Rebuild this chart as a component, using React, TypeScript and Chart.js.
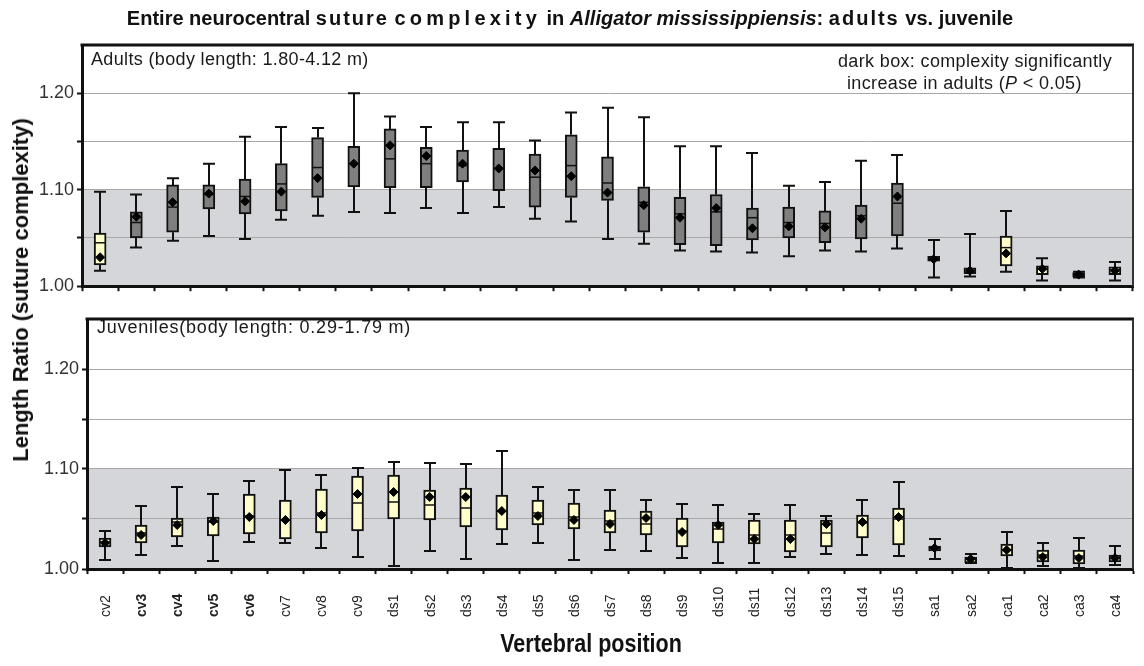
import { useEffect, useRef } from "react";
import { Chart, registerables } from "chart.js";

Chart.register(...registerables);

// Vertebral positions along the column
const vertebrae = [
  "cv2", "cv3", "cv4", "cv5", "cv6", "cv7", "cv8", "cv9",
  "ds1", "ds2", "ds3", "ds4", "ds5", "ds6", "ds7", "ds8", "ds9", "ds10",
  "ds11", "ds12", "ds13", "ds14", "ds15",
  "sa1", "sa2", "ca1", "ca2", "ca3", "ca4",
];
const boldVertebrae = ["cv3", "cv4", "cv5", "cv6"];

// Adults: five-number summary and mean of the length ratio
const adultMin = [1.016, 1.040, 1.047, 1.052, 1.049, 1.069, 1.073, 1.077, 1.076, 1.081, 1.076, 1.082, 1.070, 1.067, 1.049, 1.044, 1.037, 1.036, 1.035, 1.031, 1.037, 1.036, 1.039, 1.009, 1.010, 1.015, 1.006, 1.009, 1.006];
const adultQ1 = [1.022, 1.050, 1.056, 1.080, 1.075, 1.078, 1.092, 1.103, 1.102, 1.102, 1.108, 1.099, 1.082, 1.092, 1.089, 1.056, 1.043, 1.042, 1.048, 1.050, 1.045, 1.049, 1.052, 1.026, 1.013, 1.021, 1.012, 1.010, 1.012];
const adultMedian = [1.045, 1.066, 1.082, 1.095, 1.093, 1.106, 1.123, 1.127, 1.132, 1.127, 1.125, 1.122, 1.113, 1.125, 1.107, 1.087, 1.075, 1.077, 1.071, 1.066, 1.065, 1.073, 1.086, 1.028, 1.016, 1.040, 1.018, 1.012, 1.017];
const adultQ3 = [1.055, 1.077, 1.105, 1.105, 1.111, 1.127, 1.154, 1.145, 1.163, 1.144, 1.141, 1.143, 1.137, 1.157, 1.134, 1.103, 1.092, 1.095, 1.081, 1.082, 1.078, 1.084, 1.107, 1.031, 1.019, 1.052, 1.021, 1.014, 1.020];
const adultMax = [1.098, 1.095, 1.112, 1.127, 1.155, 1.165, 1.164, 1.200, 1.176, 1.165, 1.170, 1.170, 1.151, 1.180, 1.185, 1.175, 1.145, 1.145, 1.138, 1.104, 1.108, 1.130, 1.136, 1.048, 1.054, 1.078, 1.029, 1.015, 1.025];
const adultMean = [1.030, 1.072, 1.087, 1.096, 1.088, 1.098, 1.112, 1.127, 1.146, 1.135, 1.127, 1.122, 1.120, 1.114, 1.097, 1.084, 1.071, 1.081, 1.060, 1.062, 1.061, 1.070, 1.093, 1.028, 1.016, 1.034, 1.018, 1.012, 1.016];
// Positions where complexity increases significantly in adults (dark boxes)
const adultSignificant = [false, true, true, true, true, true, true, true, true, true, true, true, true, true, true, true, true, true, true, true, true, true, true, true, false, false, false, true, false];

// Juveniles: five-number summary and mean of the length ratio
const juvMin = [1.009, 1.014, 1.023, 1.008, 1.027, 1.026, 1.021, 1.012, 1.003, 1.018, 1.010, 1.025, 1.026, 1.009, 1.019, 1.018, 1.011, 1.006, 1.006, 1.012, 1.015, 1.014, 1.013, 1.010, 1.006, 1.001, 1.003, 1.001, 1.004];
const juvQ1 = [1.022, 1.026, 1.032, 1.033, 1.035, 1.030, 1.036, 1.038, 1.050, 1.049, 1.042, 1.039, 1.044, 1.040, 1.036, 1.034, 1.022, 1.026, 1.025, 1.017, 1.022, 1.031, 1.024, 1.018, 1.006, 1.013, 1.007, 1.005, 1.007];
const juvMedian = [1.027, 1.036, 1.047, 1.047, 1.053, 1.049, 1.056, 1.066, 1.067, 1.064, 1.061, 1.058, 1.056, 1.052, 1.048, 1.045, 1.038, 1.040, 1.034, 1.034, 1.036, 1.046, 1.050, 1.021, 1.010, 1.019, 1.014, 1.013, 1.011];
const juvQ3 = [1.031, 1.044, 1.051, 1.052, 1.075, 1.069, 1.080, 1.093, 1.094, 1.079, 1.081, 1.074, 1.069, 1.066, 1.059, 1.058, 1.051, 1.047, 1.049, 1.049, 1.049, 1.054, 1.061, 1.023, 1.012, 1.025, 1.019, 1.019, 1.014];
const juvMax = [1.038, 1.063, 1.082, 1.075, 1.088, 1.099, 1.094, 1.101, 1.107, 1.106, 1.105, 1.118, 1.082, 1.079, 1.079, 1.069, 1.065, 1.064, 1.055, 1.064, 1.053, 1.069, 1.087, 1.030, 1.015, 1.037, 1.026, 1.031, 1.023];
const juvMean = [1.026, 1.034, 1.044, 1.048, 1.052, 1.049, 1.054, 1.075, 1.077, 1.072, 1.072, 1.058, 1.053, 1.049, 1.045, 1.051, 1.037, 1.044, 1.030, 1.030, 1.045, 1.047, 1.052, 1.021, 1.010, 1.019, 1.012, 1.011, 1.011];
const juvSignificant = vertebrae.map(() => false);

// Axis range and the shaded reference band
const yMin = 1.0;
const yMax = 1.25;
const yStep = 0.05;
const bandRange = [1.0, 1.1];

const DARK_FILL = "#7f7f7f";
const LIGHT_FILL = "#ffffcc";
const BAND_FILL = "#d5d6da";
const GRID_COLOR = "#a8a8a8";
const INK = "#111111";
const SANS = '"Liberation Sans", Arial, Helvetica, sans-serif';

type Stats = {
  min: number[];
  q1: number[];
  median: number[];
  q3: number[];
  max: number[];
  mean: number[];
  dark: boolean[];
};

type PanelProps = {
  stats: Stats;
  top: number;
  height: number;
  plotLeft: number;
  plotTop: number;
  axisHeight: number;
  showLabels: boolean;
};

const isNear = (a: number, b: number) => Math.abs(a - b) < 1e-6;

function BoxPanel({ stats, top, height, plotLeft, plotTop, axisHeight, showLabels }: PanelProps) {
  const ref = useRef<HTMLCanvasElement>(null);

  useEffect(() => {
    const canvas = ref.current;
    if (!canvas) return;

    const band = {
      id: "band",
      beforeDraw(chart: any) {
        const { ctx, chartArea: a, scales } = chart;
        const yTop = scales.y.getPixelForValue(bandRange[1]);
        const yBot = scales.y.getPixelForValue(bandRange[0]);
        ctx.save();
        ctx.fillStyle = BAND_FILL;
        ctx.fillRect(a.left, yTop, a.right - a.left, yBot - yTop);
        ctx.restore();
      },
    };

    const whiskers = {
      id: "whiskers",
      afterDatasetDraw(chart: any, args: any) {
        if (args.index !== 0) return;
        const { ctx, scales } = chart;
        const { x, y } = scales;
        const cap = 6;
        ctx.save();
        ctx.strokeStyle = INK;
        stats.min.forEach((_, i) => {
          const cx = Math.round(x.getPixelForValue(i));
          const pMin = y.getPixelForValue(stats.min[i]);
          const pQ1 = y.getPixelForValue(stats.q1[i]);
          const pMed = y.getPixelForValue(stats.median[i]);
          const pQ3 = y.getPixelForValue(stats.q3[i]);
          const pMax = y.getPixelForValue(stats.max[i]);
          ctx.lineWidth = 2;
          ctx.beginPath();
          ctx.moveTo(cx, pQ3);
          ctx.lineTo(cx, pMax);
          ctx.moveTo(cx, pQ1);
          ctx.lineTo(cx, pMin);
          ctx.moveTo(cx - cap, pMax);
          ctx.lineTo(cx + cap, pMax);
          ctx.moveTo(cx - cap, pMin);
          ctx.lineTo(cx + cap, pMin);
          ctx.stroke();
          ctx.lineWidth = 1.5;
          ctx.beginPath();
          ctx.moveTo(cx - 5, pMed);
          ctx.lineTo(cx + 5, pMed);
          ctx.stroke();
        });
        ctx.restore();
      },
    };

    const frame = {
      id: "frame",
      afterDraw(chart: any) {
        const { ctx, chartArea: a } = chart;
        ctx.save();
        ctx.strokeStyle = INK;
        ctx.lineWidth = 3;
        ctx.beginPath();
        ctx.moveTo(a.left - 1.5, a.top);
        ctx.lineTo(a.right + 1, a.top);
        ctx.stroke();
        ctx.strokeStyle = "#333333";
        ctx.lineWidth = 2;
        ctx.beginPath();
        ctx.moveTo(a.right, a.top);
        ctx.lineTo(a.right, a.bottom);
        ctx.stroke();
        ctx.restore();
      },
    };

    // Vertical category labels, reading upwards from a common baseline
    const verticalLabels = {
      id: "verticalLabels",
      afterDraw(chart: any) {
        if (!showLabels) return;
        const { ctx, scales, chartArea: a } = chart;
        const base = a.bottom + 48;
        ctx.save();
        ctx.fillStyle = "#222222";
        ctx.textAlign = "left";
        ctx.textBaseline = "middle";
        vertebrae.forEach((lab, i) => {
          const px = scales.x.getPixelForValue(i);
          ctx.save();
          ctx.translate(px + 1, base);
          ctx.rotate(-Math.PI / 2);
          const bold = boldVertebrae.includes(lab);
          ctx.font = `${bold ? "bold " : ""}14px ${SANS}`;
          ctx.fillText(lab, 0, 0);
          ctx.restore();
        });
        ctx.restore();
      },
    };

    const chart = new Chart(canvas, {
      type: "bar",
      data: {
        labels: vertebrae,
        datasets: [
          {
            type: "bar",
            data: stats.q1.map((v, i) => [v, stats.q3[i]]) as any,
            backgroundColor: stats.dark.map((d) => (d ? DARK_FILL : LIGHT_FILL)),
            borderColor: INK,
            borderWidth: 2,
            borderSkipped: false,
            barThickness: 12,
            order: 1,
          },
          {
            type: "line",
            data: stats.mean,
            showLine: false,
            pointStyle: "rectRot",
            pointRadius: 4.5,
            pointBackgroundColor: "#000000",
            pointBorderColor: "#000000",
            pointBorderWidth: 1,
            order: 0,
          } as any,
        ],
      },
      options: {
        responsive: false,
        animation: false,
        devicePixelRatio: 1,
        layout: { padding: { left: 0, right: 11, top: plotTop, bottom: 0 } },
        plugins: {
          legend: { display: false },
          tooltip: { enabled: false },
        },
        scales: {
          x: {
            type: "category",
            offset: true,
            grid: {
              display: true,
              drawOnChartArea: false,
              offset: true,
              tickLength: 5,
              tickColor: INK,
              tickWidth: 2,
            },
            border: { color: INK, width: 3 },
            ticks: { display: false },
            afterFit: (s: any) => {
              s.height = axisHeight;
            },
          },
          y: {
            min: yMin,
            max: yMax,
            ticks: {
              stepSize: yStep,
              color: "#333333",
              padding: 3,
              font: { family: SANS, size: 18 },
              callback: (value: any) => {
                const v = Number(value);
                const h = Math.round(v * 100);
                return h % 10 === 0 && h < 125 ? v.toFixed(2) : "";
              },
            },
            grid: {
              color: (c: any) => {
                const v = c.tick ? c.tick.value : 0;
                return isNear(v, yMin) || isNear(v, yMax) ? "rgba(0,0,0,0)" : GRID_COLOR;
              },
              tickColor: (c: any) => {
                const v = c.tick ? c.tick.value : 0;
                return isNear(v, yMax) ? "rgba(0,0,0,0)" : INK;
              },
              tickLength: 5,
              tickWidth: 2,
              lineWidth: 1,
            },
            border: { color: INK, width: 3 },
            afterFit: (s: any) => {
              s.width = plotLeft;
            },
          },
        },
      } as any,
      plugins: [band, whiskers, frame, verticalLabels],
    });

    return () => chart.destroy();
  }, [stats, plotLeft, plotTop, axisHeight, showLabels]);

  return (
    <canvas
      ref={ref}
      width={1144}
      height={height}
      style={{ position: "absolute", left: 0, top, width: 1144, height }}
    />
  );
}

const adultStats: Stats = {
  min: adultMin,
  q1: adultQ1,
  median: adultMedian,
  q3: adultQ3,
  max: adultMax,
  mean: adultMean,
  dark: adultSignificant,
};

const juvStats: Stats = {
  min: juvMin,
  q1: juvQ1,
  median: juvMedian,
  q3: juvQ3,
  max: juvMax,
  mean: juvMean,
  dark: juvSignificant,
};

const note = (left: number, top: number, spacing = 0.35, size = 18): React.CSSProperties => ({
  position: "absolute",
  left,
  top,
  fontFamily: SANS,
  fontSize: size,
  lineHeight: `${size}px`,
  letterSpacing: spacing,
  color: "#1a1a1a",
  whiteSpace: "nowrap",
  transform: "translateY(-50%)",
});

export default function App() {
  return (
    <div
      style={{
        position: "absolute",
        left: 0,
        top: 0,
        width: 1144,
        height: 666,
        background: "#ffffff",
        overflow: "hidden",
      }}
    >
      <BoxPanel stats={adultStats} top={0} height={300} plotLeft={82} plotTop={45} axisHeight={10} showLabels={false} />
      <BoxPanel stats={juvStats} top={300} height={366} plotLeft={87} plotTop={19} axisHeight={97} showLabels={true} />

      <div
        style={{
          position: "absolute",
          left: 570,
          top: 18,
          transform: "translate(-50%, -50%)",
          fontFamily: SANS,
          fontWeight: "bold",
          fontSize: 20,
          lineHeight: "20px",
          color: "#111",
          whiteSpace: "nowrap",
        }}
      >
        Entire neurocentral <span style={{ letterSpacing: 2 }}>suture</span>{" "}
        <span style={{ letterSpacing: 4.2 }}>complexity</span> in <i>Alligator mississippiensis</i>:{" "}
        <span style={{ letterSpacing: 2 }}>adults</span> vs. juvenile
      </div>

      <div
        style={{
          position: "absolute",
          left: 21,
          top: 290,
          transform: "translate(-50%, -50%) rotate(-90deg)",
          fontFamily: SANS,
          fontWeight: "bold",
          fontSize: 22,
          lineHeight: "22px",
          color: "#111",
          whiteSpace: "nowrap",
        }}
      >
        Length Ratio (suture complexity)
      </div>

      <div
        style={{
          position: "absolute",
          left: 591,
          top: 643,
          transform: "translate(-50%, -50%) scaleX(0.86)",
          fontFamily: SANS,
          fontWeight: "bold",
          fontSize: 25,
          lineHeight: "25px",
          color: "#111",
          whiteSpace: "nowrap",
        }}
      >
        Vertebral position
      </div>

      <div style={note(91, 59)}>Adults (body length: 1.80-4.12 m)</div>
      <div style={note(838, 61)}>dark box: complexity significantly</div>
      <div style={note(847, 83)}>
        increase in adults (<i>P</i> &lt; 0.05)
      </div>
      <div style={note(97, 327, 0.8)}>Juveniles(body length: 0.29-1.79 m)</div>
    </div>
  );
}
